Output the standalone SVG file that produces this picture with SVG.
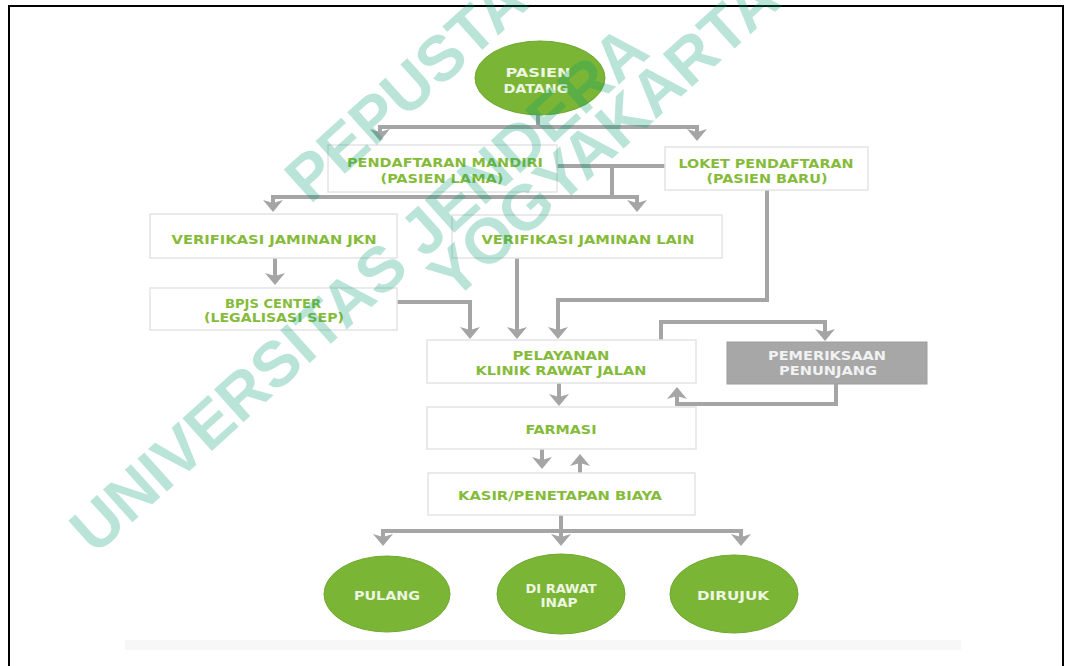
<svg xmlns="http://www.w3.org/2000/svg" width="1072" height="666" viewBox="0 0 1072 666">
<style>
.box{fill:#ffffff;stroke:#e4e4e4;stroke-width:1.5}
.gbox{fill:#a7a7a7;stroke:#9e9e9e;stroke-width:1}
.ell{fill:#7ab536;stroke:#6fa82e;stroke-width:1}
.t{font-family:'DejaVu Sans Condensed','DejaVu Sans','Liberation Sans',sans-serif;font-weight:bold;font-size:13px;text-anchor:middle;fill:#85bb3a}
.tw{fill:#eef6e2}
.tg{fill:#f2f2f2}
.c{fill:none;stroke:#a5a5a5;stroke-width:4}
.ca{fill:none;stroke:#a5a5a5;stroke-width:4;marker-end:url(#ah)}
.wm{font-family:'Liberation Sans',Arial,sans-serif;font-weight:bold;font-size:64px;fill:#009a70;fill-opacity:0.27}
</style>
<defs>
<marker id="ah" viewBox="0 0 12 20" refX="3" refY="10" markerWidth="12" markerHeight="20" markerUnits="userSpaceOnUse" orient="auto">
<path d="M0,0 L12,10 L0,20 L3,10 Z" fill="#a5a5a5"/>
</marker>
</defs>
<rect x="0" y="0" width="1072" height="666" fill="#ffffff"/>
<rect x="125" y="640" width="836" height="10" fill="#f7f7f7"/>
<rect x="9" y="6" width="1054" height="700" fill="none" stroke="#000000" stroke-width="2"/>

<g id="connectors">
<path class="c" d="M538,114 V127"/>
<path class="ca" d="M538,127 H380 V132"/>
<path class="ca" d="M538,127 H697 V132"/>
<path class="c" d="M557,166 H665"/>
<path class="ca" d="M612,166 V197 H273 V203"/>
<path class="ca" d="M612,197 H637 V203"/>
<path class="ca" d="M275,258 V276"/>
<path class="ca" d="M397,302 H470 V330"/>
<path class="ca" d="M517,258 V330"/>
<path class="ca" d="M767,190 V300 H558 V330"/>
<path class="ca" d="M661,340 V322 H825 V332"/>
<path class="ca" d="M836,384 V404 H677 V396"/>
<path class="ca" d="M559,383 V397"/>
<path class="ca" d="M542,449 V460"/>
<path class="ca" d="M580,473 V463"/>
<path class="c" d="M561,515 V531"/>
<path class="ca" d="M561,531 H383 V537"/>
<path class="ca" d="M561,531 V537"/>
<path class="ca" d="M561,531 H741 V537"/>
</g>

<g id="pasien-datang">
<ellipse class="ell" cx="540" cy="78" rx="65" ry="37"/>
<text class="t tw" x="538" y="77" font-size="14" textLength="65" lengthAdjust="spacingAndGlyphs">PASIEN</text>
<text class="t tw" x="536" y="93" font-size="14" textLength="65" lengthAdjust="spacingAndGlyphs">DATANG</text>
</g>

<g id="pendaftaran-mandiri">
<rect class="box" x="328" y="145" width="229" height="47"/>
<text class="t" x="445" y="167" textLength="196" lengthAdjust="spacingAndGlyphs">PENDAFTARAN MANDIRI</text>
<text class="t" x="442" y="183" textLength="123" lengthAdjust="spacingAndGlyphs">(PASIEN LAMA)</text>
</g>

<g id="loket-pendaftaran">
<rect class="box" x="665" y="147" width="203" height="43"/>
<text class="t" x="766" y="168" textLength="175" lengthAdjust="spacingAndGlyphs">LOKET PENDAFTARAN</text>
<text class="t" x="767" y="183" textLength="121" lengthAdjust="spacingAndGlyphs">(PASIEN BARU)</text>
</g>

<g id="verifikasi-jkn">
<rect class="box" x="150" y="214" width="247" height="44"/>
<text class="t" x="274" y="244" textLength="205" lengthAdjust="spacingAndGlyphs">VERIFIKASI JAMINAN JKN</text>
</g>

<g id="verifikasi-lain">
<rect class="box" x="452" y="215" width="270" height="43"/>
<text class="t" x="588" y="244" textLength="213" lengthAdjust="spacingAndGlyphs">VERIFIKASI JAMINAN LAIN</text>
</g>

<g id="bpjs-center">
<rect class="box" x="150" y="288" width="247" height="42"/>
<text class="t" x="273" y="308" textLength="96" lengthAdjust="spacingAndGlyphs">BPJS CENTER</text>
<text class="t" x="274" y="322" textLength="140" lengthAdjust="spacingAndGlyphs">(LEGALISASI SEP)</text>
</g>

<g id="pelayanan">
<rect class="box" x="427" y="340" width="269" height="43"/>
<text class="t" x="561" y="360" textLength="97" lengthAdjust="spacingAndGlyphs">PELAYANAN</text>
<text class="t" x="561" y="375" textLength="171" lengthAdjust="spacingAndGlyphs">KLINIK RAWAT JALAN</text>
</g>

<g id="pemeriksaan-penunjang">
<rect class="gbox" x="727" y="342" width="200" height="42"/>
<text class="t tg" x="827" y="360" textLength="118" lengthAdjust="spacingAndGlyphs">PEMERIKSAAN</text>
<text class="t tg" x="828" y="375" textLength="98" lengthAdjust="spacingAndGlyphs">PENUNJANG</text>
</g>

<g id="farmasi">
<rect class="box" x="427" y="407" width="269" height="42"/>
<text class="t" x="561" y="434" textLength="71" lengthAdjust="spacingAndGlyphs">FARMASI</text>
</g>

<g id="kasir">
<rect class="box" x="428" y="473" width="267" height="42"/>
<text class="t" x="560" y="500" textLength="204" lengthAdjust="spacingAndGlyphs">KASIR/PENETAPAN BIAYA</text>
</g>

<g id="pulang">
<ellipse class="ell" cx="387" cy="594" rx="63" ry="38"/>
<text class="t tw" x="387" y="600" textLength="66" lengthAdjust="spacingAndGlyphs">PULANG</text>
</g>

<g id="dirawat-inap">
<ellipse class="ell" cx="561" cy="594" rx="64" ry="40"/>
<text class="t tw" x="561" y="593" textLength="71" lengthAdjust="spacingAndGlyphs">DI RAWAT</text>
<text class="t tw" x="559" y="607" textLength="37" lengthAdjust="spacingAndGlyphs">INAP</text>
</g>

<g id="dirujuk">
<ellipse class="ell" cx="734" cy="594" rx="64" ry="39"/>
<text class="t tw" x="733" y="600" textLength="72" lengthAdjust="spacingAndGlyphs">DIRUJUK</text>
</g>

<g id="watermark">
<text class="wm" transform="translate(310,205) rotate(-42)">PEPUSTA</text>
<text class="wm" transform="translate(95,556) rotate(-42)">UNIVERSITAS JENDERA</text>
<text class="wm" transform="translate(453,302) rotate(-42)">YOGYAKARTA</text>
</g>
</svg>
